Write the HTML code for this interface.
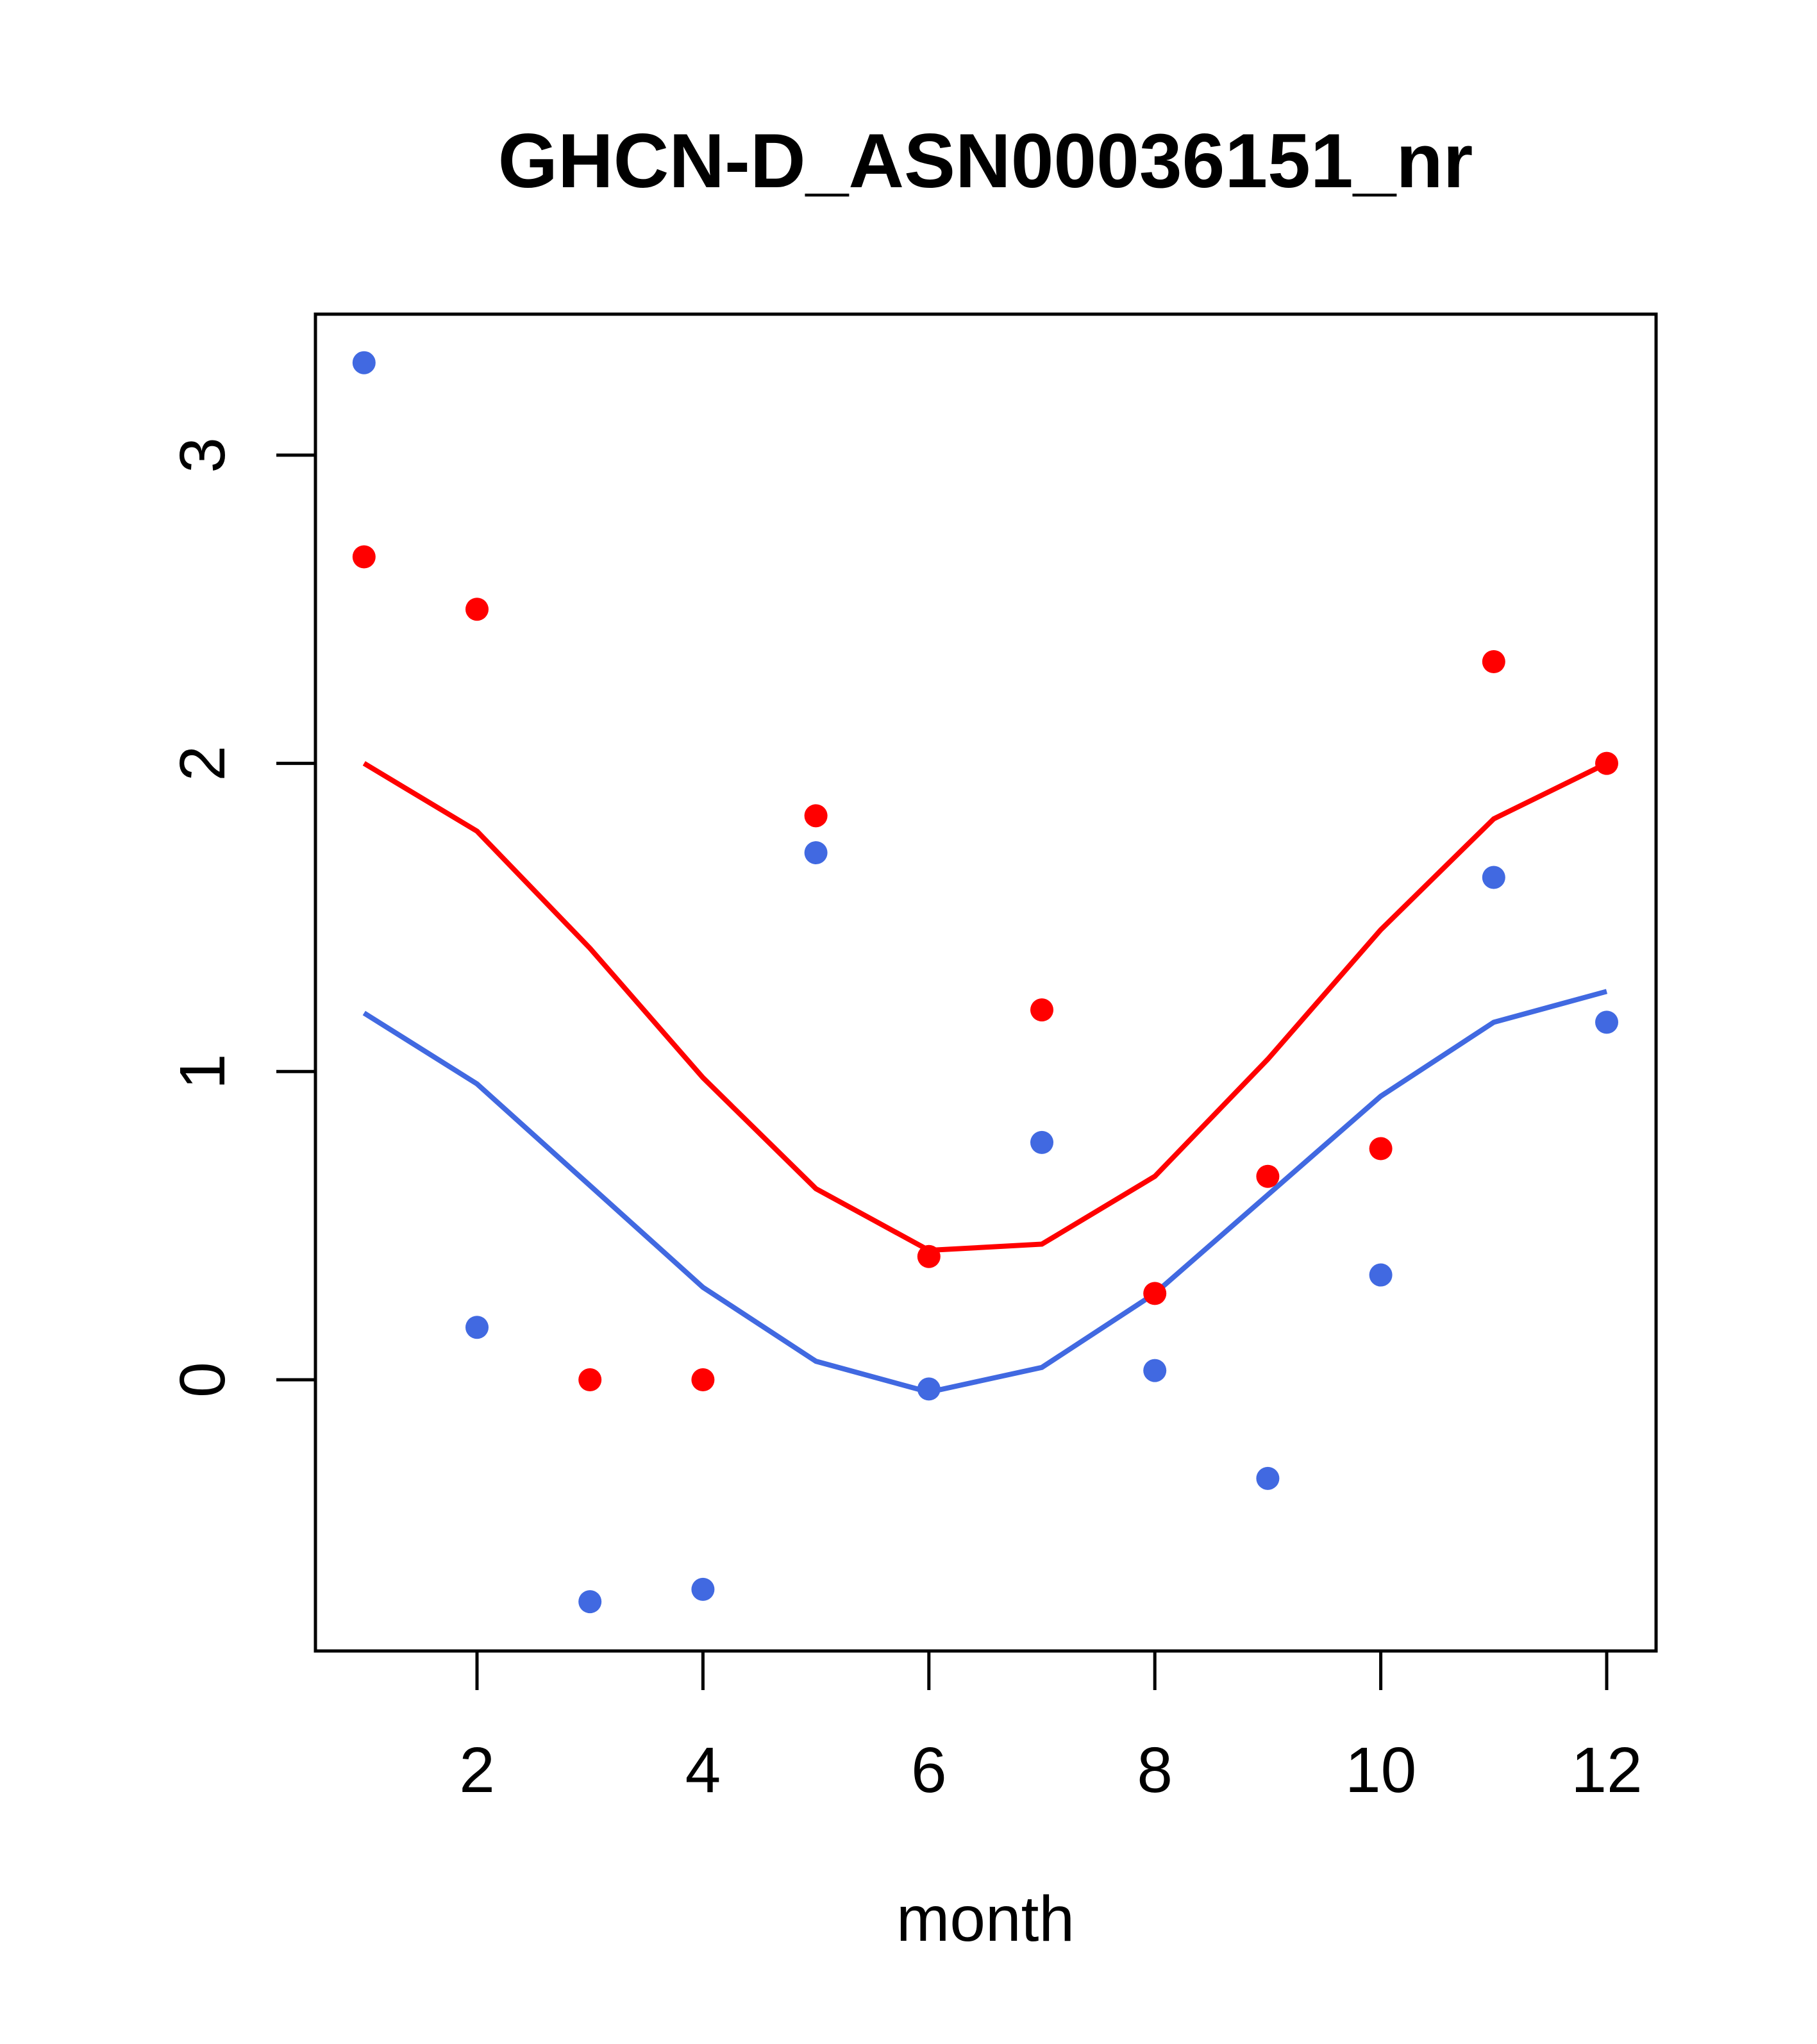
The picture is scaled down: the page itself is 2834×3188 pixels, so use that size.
<!DOCTYPE html>
<html><head><meta charset="utf-8"><style>
html,body{margin:0;padding:0;background:#fff;}
svg{display:block;font-family:"Liberation Sans",Arial,sans-serif;}
</style></head><body>
<svg id="chart" width="2834" height="3188" viewBox="0 0 2834 3188" xmlns="http://www.w3.org/2000/svg">
<rect width="2834" height="3188" fill="#fff"/>
<text x="1537" y="292" text-anchor="middle" font-size="120" font-weight="bold">GHCN-D_ASN00036151_nr</text>
<rect x="492" y="490" width="2091" height="2085" fill="none" stroke="#000" stroke-width="5"/>
<text x="1537" y="3027" text-anchor="middle" font-size="100">month</text>
<g id="axes"></g>
<g id="marks"></g>
</svg>
<script>
const months = [1,2,3,4,5,6,7,8,9,10,11,12];
const redPoints = [2.67,2.50,0.00,0.00,1.83,0.40,1.20,0.28,0.66,0.75,2.33,2.00];
const bluePoints = [3.30,0.17,-0.72,-0.68,1.71,-0.03,0.77,0.03,-0.32,0.34,1.63,1.16];
const redLine = [2.00,1.78,1.40,0.98,0.62,0.42,0.44,0.66,1.04,1.46,1.82,2.00];
const blueLine = [1.19,0.96,0.63,0.30,0.06,-0.04,0.04,0.28,0.60,0.92,1.16,1.26];
const xTicks = [2,4,6,8,10,12];
const yTicks = [0,1,2,3];

const NS = "http://www.w3.org/2000/svg";
function xs(v){ return 744 + (v-2)*176.2; }
function ys(v){ return 2152 - v*480.7; }
function mk(tag, attrs, parent){
  const e = document.createElementNS(NS, tag);
  for (const k in attrs) e.setAttribute(k, attrs[k]);
  parent.appendChild(e); return e;
}
const axes = document.getElementById('axes');
const marks = document.getElementById('marks');
xTicks.forEach(t=>{
  const l = mk('line',{x1:xs(t),x2:xs(t),y1:2575,y2:2636,stroke:'#000','stroke-width':5},axes);
  
  
  const tx = mk('text',{x:xs(t),y:2795,'text-anchor':'middle','font-size':100},axes);
  tx.textContent = t;
  
  
});
yTicks.forEach(t=>{
  const l = mk('line',{x1:431,x2:492,y1:ys(t),y2:ys(t),stroke:'#000','stroke-width':5},axes);
  
  
  const tx = mk('text',{x:0,y:0,'text-anchor':'middle','font-size':100,transform:`translate(350,${ys(t)}) rotate(-90)`},axes);
  tx.textContent = t;
  
  
});
function line(vals, color, name){
  const p = mk('polyline',{points:months.map((m,i)=>xs(m)+','+ys(vals[i])).join(' '),fill:'none',stroke:color,'stroke-width':8},marks);
  
  
}
function pts(vals, color, name){
  months.forEach((m,i)=>{
    const c = mk('circle',{cx:xs(m),cy:ys(vals[i]),r:18,fill:color},marks);
    
    
  });
}
line(redLine,'#ff0000','red-line');
line(blueLine,'#4169e1','blue-line');
pts(redPoints,'#ff0000','red-point');
pts(bluePoints,'#4169e1','blue-point');
</script>
</body></html>
